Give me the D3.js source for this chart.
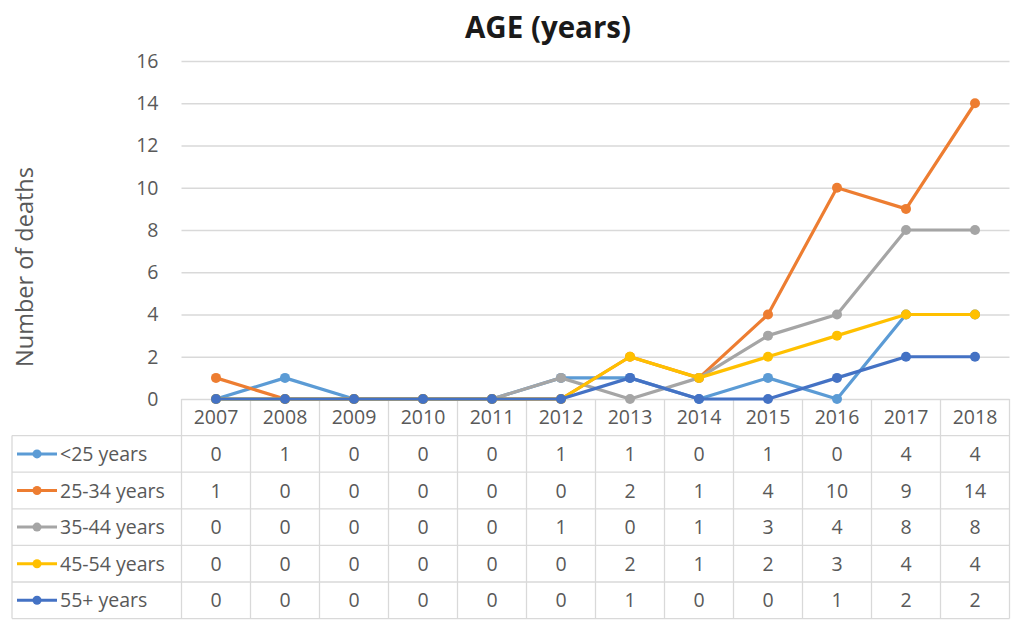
<!DOCTYPE html>
<html>
<head>
<meta charset="utf-8">
<script src="https://cdn.jsdelivr.net/npm/d3@7"></script>
<style>
  html, body { margin: 0; padding: 0; background: #ffffff; }
  svg { display: block; }
  text { font-family: "Open Sans", "Lato", "Liberation Sans", sans-serif; }
</style>
</head>
<body>
<svg id="chart" width="1017" height="627"></svg>
<script>
// Deaths per year, by age group
const years = ["2007","2008","2009","2010","2011","2012","2013","2014","2015","2016","2017","2018"];
const seriesNames = ["<25 years", "25-34 years", "35-44 years", "45-54 years", "55+ years"];
const under25   = [0, 1, 0, 0, 0, 1, 1, 0, 1, 0, 4, 4];
const age25to34 = [1, 0, 0, 0, 0, 0, 2, 1, 4, 10, 9, 14];
const age35to44 = [0, 0, 0, 0, 0, 1, 0, 1, 3, 4, 8, 8];
const age45to54 = [0, 0, 0, 0, 0, 0, 2, 1, 2, 3, 4, 4];
const age55plus = [0, 0, 0, 0, 0, 0, 1, 0, 0, 1, 2, 2];
const yTicks = [0, 2, 4, 6, 8, 10, 12, 14, 16];
const colors = ["#5b9bd5", "#ed7d31", "#a5a5a5", "#ffc000", "#4472c4"];

const seriesValues = [under25, age25to34, age35to44, age45to54, age55plus];
const series = seriesNames.map((name, i) => ({ name, values: seriesValues[i], color: colors[i] }));

const svg = d3.select("#chart");
const plot = { left: 181.5, right: 1009.5, top: 61, bottom: 399 };
const tableLeft = 12;
const rowH = 36.6;
const gridColor = "#d9d9d9";
const textColor = "#595959";
const bodySize = 19.5;

const x = d3.scaleBand().domain(years).range([plot.left, plot.right]);
const y = d3.scaleLinear().domain([0, 16]).range([plot.bottom, plot.top]);

// Title
svg.append("text")
  .attr("x", 548).attr("y", 38)
  .attr("text-anchor", "middle")
  .attr("font-size", 29.5).attr("font-weight", "bold")
  .attr("fill", "#1a1a1a")
  .text("AGE (years)");

// Y-axis title
svg.append("text")
  .attr("transform", "translate(33,267) rotate(-90)")
  .attr("text-anchor", "middle")
  .attr("font-size", 23.5)
  .attr("fill", textColor)
  .text("Number of deaths");

// Horizontal gridlines + tick labels
const yAxis = svg.append("g")
  .attr("transform", `translate(${plot.left},0)`)
  .call(d3.axisLeft(y).tickValues(yTicks).tickSize(-(plot.right - plot.left)).tickPadding(23));
yAxis.select(".domain").remove();
yAxis.selectAll(".tick line").attr("stroke", gridColor).attr("stroke-width", 1.3);
yAxis.selectAll(".tick text")
  .attr("font-size", bodySize).attr("fill", textColor)
  .style("font-family", "'Open Sans', Lato, sans-serif");

// Data table: vertical separators between categories
const tableBottom = plot.bottom + rowH * 6;
const edges = years.map(yr => x(yr)).concat([plot.right]);
svg.append("g").selectAll("line.vsep")
  .data(edges)
  .join("line")
  .attr("x1", d => d).attr("x2", d => d)
  .attr("y1", plot.bottom).attr("y2", tableBottom)
  .attr("stroke", gridColor).attr("stroke-width", 1.3);

// Horizontal row borders
const rowLines = d3.range(1, 7).map(i => plot.bottom + rowH * i);
svg.append("g").selectAll("line.hsep")
  .data(rowLines)
  .join("line")
  .attr("x1", tableLeft).attr("x2", plot.right)
  .attr("y1", d => d).attr("y2", d => d)
  .attr("stroke", gridColor).attr("stroke-width", 1.3);
svg.append("line")
  .attr("x1", tableLeft).attr("x2", tableLeft)
  .attr("y1", plot.bottom + rowH).attr("y2", tableBottom)
  .attr("stroke", gridColor).attr("stroke-width", 1.3);

// Category labels (header row)
svg.append("g").selectAll("text")
  .data(years)
  .join("text")
  .attr("x", d => x(d) + x.bandwidth() / 2)
  .attr("y", plot.bottom + rowH / 2 + 7)
  .attr("text-anchor", "middle")
  .attr("font-size", bodySize).attr("fill", textColor)
  .text(d => d);

// Table rows: legend key + values
const rows = svg.append("g").selectAll("g.row")
  .data(series)
  .join("g")
  .attr("transform", (d, i) => `translate(0,${plot.bottom + rowH * (i + 1.5)})`);

rows.append("line")
  .attr("x1", 17).attr("x2", 57).attr("y1", 0).attr("y2", 0)
  .attr("stroke", d => d.color).attr("stroke-width", 3);
rows.append("circle")
  .attr("cx", 37).attr("cy", 0).attr("r", 4.5)
  .attr("fill", d => d.color);
rows.append("text")
  .attr("x", 60).attr("y", 7)
  .attr("font-size", bodySize).attr("fill", textColor)
  .text(d => d.name);
rows.selectAll("text.val")
  .data(d => d.values.map((v, j) => ({ v, yr: years[j] })))
  .join("text")
  .attr("class", "val")
  .attr("x", d => x(d.yr) + x.bandwidth() / 2)
  .attr("y", 7)
  .attr("text-anchor", "middle")
  .attr("font-size", bodySize).attr("fill", textColor)
  .text(d => d.v);

// Lines and markers
const line = d3.line()
  .x((d, i) => x(years[i]) + x.bandwidth() / 2)
  .y(d => y(d));

const sg = svg.append("g").selectAll("g.series")
  .data(series)
  .join("g");
sg.append("path")
  .attr("d", d => line(d.values))
  .attr("fill", "none")
  .attr("stroke", d => d.color)
  .attr("stroke-width", 3.2)
  .attr("stroke-linejoin", "round");
sg.selectAll("circle")
  .data(d => d.values.map((v, i) => ({ v, i, color: d.color })))
  .join("circle")
  .attr("cx", d => x(years[d.i]) + x.bandwidth() / 2)
  .attr("cy", d => y(d.v))
  .attr("r", 5)
  .attr("fill", d => d.color);
</script>
</body>
</html>
